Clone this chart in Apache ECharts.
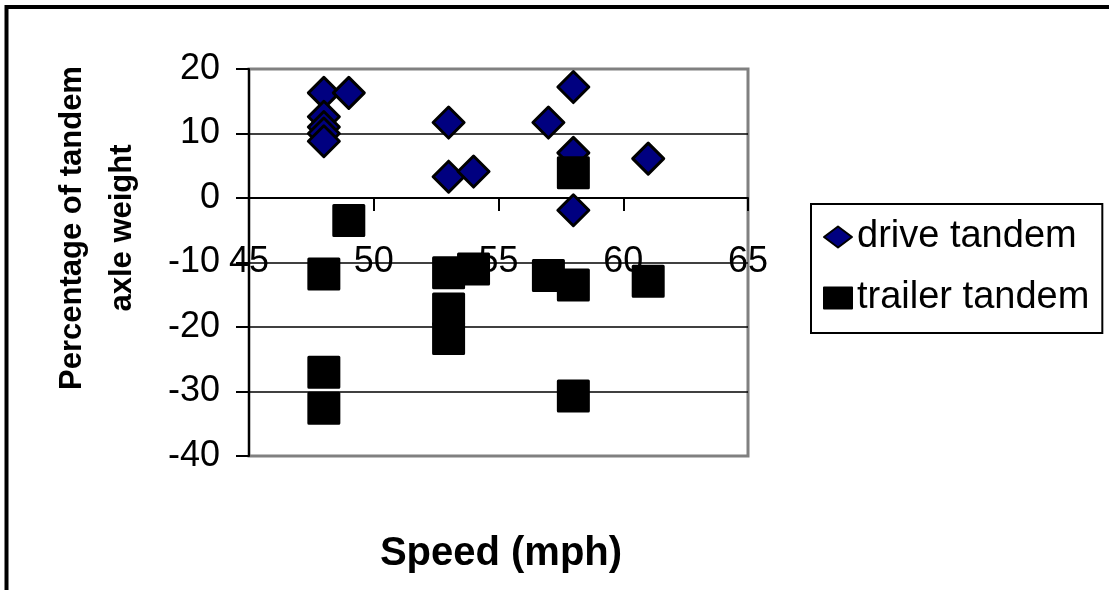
<!DOCTYPE html>
<html>
<head>
<meta charset="utf-8">
<script src="https://cdn.jsdelivr.net/npm/echarts@6/dist/echarts.min.js"></script>
<style>
  html, body { margin: 0; padding: 0; background: #fff; }
  #chart { width: 1109px; height: 590px; }
</style>
</head>
<body>
<div id="chart"></div>
<script>
// Axis ranges (tick labels)
const speedTicks = [45, 50, 55, 60, 65];
const weightTicks = [-40, -30, -20, -10, 0, 10, 20];

// Drive tandem: speed (mph) and percentage of tandem axle weight
const driveSpeed  = [48, 48, 48, 48, 48, 49, 53, 53, 54, 57, 58, 58, 58, 61];
const driveWeight = [16.3, 12.6, 11.0, 10.0, 8.8, 16.3, 11.7, 3.3, 4.1, 11.7, 17.2, 7.0, -1.9, 6.1];

// Trailer tandem
const trailerSpeed  = [48, 48, 48, 49, 53, 53, 53, 54, 57, 58, 58, 58, 61];
const trailerWeight = [-11.8, -27.0, -32.6, -3.5, -11.6, -17.2, -21.8, -11.0, -12.0, -13.5, -30.7, 3.9, -12.9];

const seriesNames = ['drive tandem', 'trailer tandem'];
const xTitle = 'Speed (mph)';
const yTitle = 'Percentage of tandem\naxle weight';

const FONT = '"Liberation Sans", Arial, Helvetica, sans-serif';

function pairs(xs, ys) {
  return xs.map((x, i) => [x, ys[i]]);
}

const chart = echarts.init(document.getElementById('chart'), null, { renderer: 'canvas' });

chart.setOption({
  animation: false,
  backgroundColor: '#fff',
  textStyle: { fontFamily: FONT },
  grid: {
    left: 249, top: 69, width: 499, height: 387,
    show: true,
    borderColor: '#808080',
    borderWidth: 3,
    backgroundColor: 'transparent'
  },
  xAxis: {
    type: 'value',
    min: speedTicks[0],
    max: speedTicks[speedTicks.length - 1],
    interval: speedTicks[1] - speedTicks[0],
    axisLine: { show: true, onZero: true, lineStyle: { color: '#000', width: 2 } },
    axisTick: { show: true, length: 13, lineStyle: { color: '#000', width: 2 } },
    // tick labels sit across the -10 gridline, well below the zero axis line
    axisLabel: { margin: -212, fontSize: 36, color: '#000', fontFamily: FONT },
    splitLine: { show: false }
  },
  yAxis: {
    type: 'value',
    min: weightTicks[0],
    max: weightTicks[weightTicks.length - 1],
    interval: weightTicks[1] - weightTicks[0],
    axisLine: { show: true, onZero: false, lineStyle: { color: '#000', width: 2 } },
    axisTick: { show: true, length: 13, lineStyle: { color: '#000', width: 2 } },
    axisLabel: { margin: 29, fontSize: 36, color: '#000', fontFamily: FONT },
    splitLine: {
      show: true, showMinLine: false, showMaxLine: false,
      lineStyle: { color: '#000', width: 1.5 }
    }
  },
  legend: {
    orient: 'vertical',
    left: 811, top: 204,
    padding: [14, 13, 16, 12],
    itemGap: 23,
    itemWidth: 28, itemHeight: 21,
    symbolKeepAspect: false,
    borderColor: '#000', borderWidth: 2,
    backgroundColor: '#fff',
    textStyle: { fontSize: 38, color: '#000', fontFamily: FONT },
    data: seriesNames
  },
  graphic: [
    {
      type: 'rect', silent: true,
      shape: { x: 6.5, y: 7, width: 1300, height: 800 },
      style: { fill: 'none', stroke: '#000', lineWidth: 4 }
    },
    {
      type: 'text', silent: true,
      x: 97, y: 228, rotation: Math.PI / 2,
      style: {
        text: yTitle, align: 'center', verticalAlign: 'middle',
        fontSize: 31, fontWeight: 'bold', fontFamily: FONT, lineHeight: 50, fill: '#000'
      }
    },
    {
      type: 'text', silent: true,
      x: 501, y: 554,
      style: {
        text: xTitle, align: 'center', verticalAlign: 'middle',
        fontSize: 40, fontWeight: 'bold', fontFamily: FONT, fill: '#000'
      }
    }
  ],
  series: [
    {
      name: seriesNames[0],
      type: 'scatter',
      symbol: 'diamond',
      symbolSize: 31,
      itemStyle: { color: '#000080', borderColor: '#000', borderWidth: 3, borderJoin: 'round', opacity: 1 },
      emphasis: { disabled: true },
      data: pairs(driveSpeed, driveWeight)
    },
    {
      name: seriesNames[1],
      type: 'scatter',
      symbol: 'rect',
      symbolSize: 30,
      itemStyle: { color: '#000', borderColor: '#000', borderWidth: 3, borderJoin: 'round', opacity: 1 },
      emphasis: { disabled: true },
      data: pairs(trailerSpeed, trailerWeight)
    }
  ]
});
</script>
</body>
</html>
